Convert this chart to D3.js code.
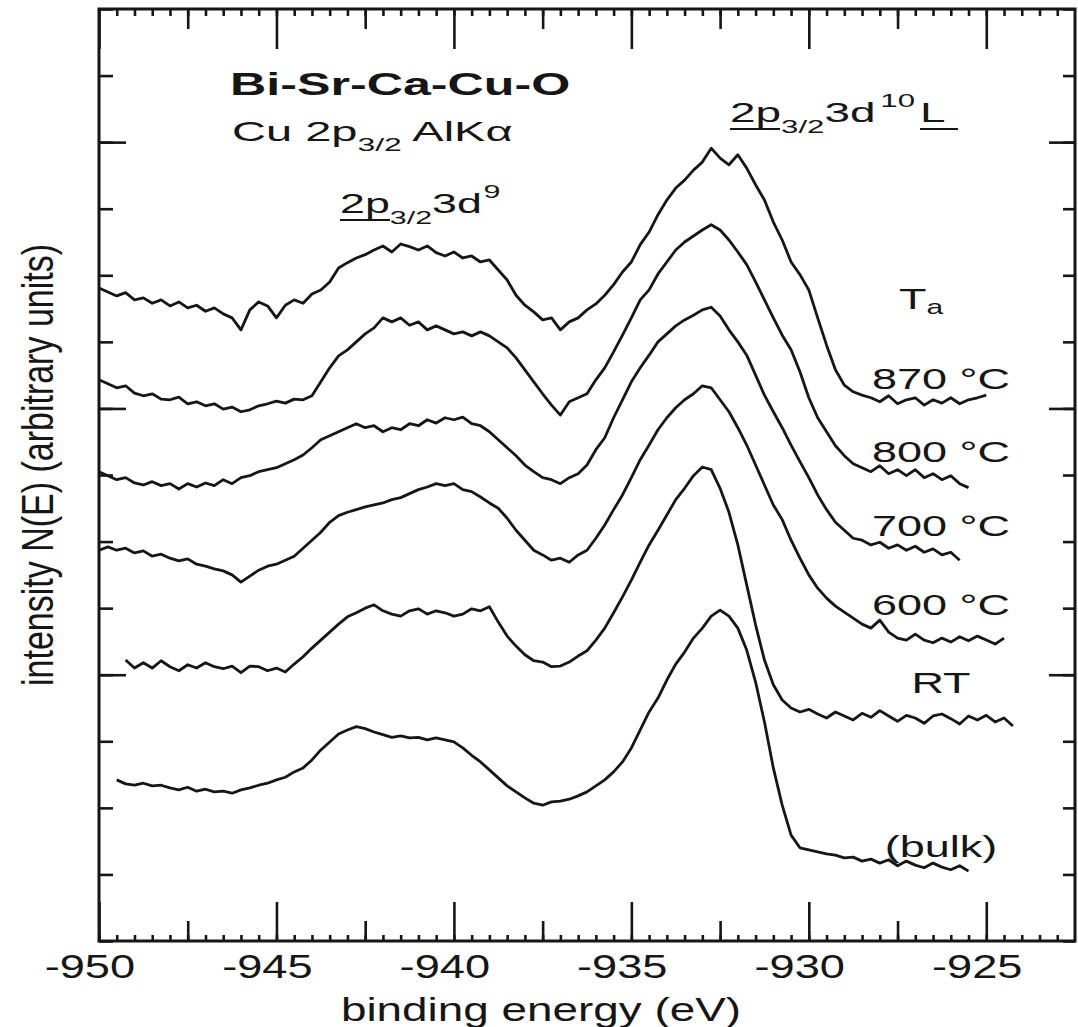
<!DOCTYPE html>
<html>
<head>
<meta charset="utf-8">
<script src="https://cdn.jsdelivr.net/npm/d3@7"></script>
<style>
body { margin: 0; background: #fff; }
text { font-family: "Liberation Sans", Arial, Helvetica, sans-serif; fill: #161616; }
</style>
</head>
<body>
<script>
// Cu 2p3/2 XPS spectra, Bi-Sr-Ca-Cu-O
// energies in eV, intensity in arbitrary units (0..140, one minor tick = 10)
var step = 0.25;

var i870 = [98.1,97.5,96.9,97.4,96.3,96.6,95.8,96.3,95.4,96.0,
	95.1,95.5,94.6,95.1,94.2,93.6,91.8,94.8,96.0,95.4,
	93.6,95.5,96.3,95.8,97.2,97.8,99.0,101.1,101.9,102.6,
	103.1,103.8,104.4,103.5,104.7,104.3,103.8,104.4,103.4,102.9,
	103.5,102.6,102.9,102.0,102.3,100.8,99.3,97.0,95.5,94.5,
	93.3,93.6,91.8,93.0,93.6,94.8,95.7,97.0,98.6,100.5,
	102.0,104.6,106.5,109.1,111.3,113.1,114.3,115.8,117.0,119.1,
	117.6,116.6,118.1,116.1,113.6,111.3,108.0,105.3,102.0,100.1,
	97.8,93.6,89.5,85.8,83.5,82.5,82.0,81.6,81.0,81.9,
	80.7,81.3,81.6,80.5,81.3,80.8,81.6,80.7,81.3,81.6,
	82.0];

var i800 = [84.3,83.7,83.1,83.4,82.3,81.9,82.2,81.4,81.3,81.7,
	80.7,81.0,80.4,80.7,79.9,80.2,79.5,79.8,80.4,80.7,
	81.1,80.8,81.4,81.3,81.9,84.0,86.1,87.9,88.8,90.0,
	91.2,92.1,93.6,93.0,93.6,92.5,93.0,91.8,92.4,91.8,
	91.2,91.5,90.9,91.5,90.9,90.0,89.1,87.6,85.8,84.0,
	82.2,80.5,79.0,81.0,81.6,82.2,84.3,86.1,88.5,91.0,
	93.6,96.3,97.8,100.2,102.0,103.8,105.0,105.9,106.8,107.6,
	106.8,105.3,103.5,101.6,99.0,96.3,93.6,91.0,88.8,85.5,
	81.6,78.6,76.5,74.4,72.9,71.7,71.1,70.5,71.4,70.2,
	70.8,69.9,70.8,69.6,70.2,69.3,69.9,68.7,68.1];

var i700 = [70.5,69.9,69.3,69.6,68.8,68.5,69.0,68.4,68.7,67.9,
	68.7,68.2,68.8,68.4,69.3,68.7,69.6,69.9,70.5,70.8,
	71.1,71.7,72.3,73.0,74.1,75.3,75.9,76.5,77.1,77.7,
	77.1,77.4,76.5,77.1,76.8,77.7,77.4,78.3,77.8,78.6,
	78.3,78.7,77.7,77.4,76.5,75.3,74.1,72.9,71.5,70.5,
	69.6,69.3,68.7,69.6,70.2,71.5,73.8,75.6,78.6,81.3,
	84.0,86.1,88.0,90.0,91.2,92.4,93.3,94.0,94.8,95.2,
	93.9,91.8,90.0,88.0,85.0,82.0,79.5,77.1,74.5,72.0,
	69.6,67.0,64.8,62.9,61.7,60.5,60.2,59.5,59.9,59.0,
	59.5,58.7,59.3,58.4,58.9,58.0,58.4,57.2];

var i600 = [58.7,59.2,58.7,59.0,58.3,58.6,57.8,58.1,57.5,57.1,
	57.4,56.6,56.3,55.9,55.6,55.0,53.9,54.8,55.7,56.3,
	56.6,57.2,57.8,59.0,60.2,61.4,62.9,63.9,64.4,64.8,
	65.2,65.5,65.8,66.3,66.6,67.2,67.8,68.2,68.7,68.4,
	68.7,67.8,67.5,66.7,65.8,65.0,63.5,61.7,60.2,58.7,
	58.0,57.2,57.5,56.9,58.0,58.7,60.5,62.5,64.8,67.0,
	69.6,72.3,74.5,76.8,78.6,80.1,81.3,82.2,83.4,83.1,
	81.3,79.5,77.1,74.5,71.5,68.5,65.5,63.3,60.2,57.5,
	55.0,53.0,51.5,50.3,49.4,48.5,47.6,47.0,48.2,46.4,
	45.5,45.2,46.1,45.2,44.8,45.5,44.9,45.7,45.1,45.8,
	45.2,44.6,45.5];

var iRT = [42.2,41.0,41.8,41.0,42.1,41.2,40.6,41.5,41.0,41.8,
	41.2,40.9,41.3,40.3,41.3,41.2,40.6,41.0,40.4,41.6,
	42.7,44.0,45.2,46.4,47.6,48.7,49.3,50.0,50.5,49.6,
	49.1,48.8,49.6,49.9,49.1,49.6,49.3,48.8,49.1,49.9,
	49.6,50.2,47.9,45.8,44.3,43.0,42.1,41.9,41.2,41.3,
	41.9,42.8,43.6,45.2,47.0,49.3,51.7,54.2,56.9,59.5,
	61.7,64.0,66.3,68.0,69.9,71.2,70.8,68.0,64.4,59.5,
	53.5,47.5,42.2,38.5,36.2,35.0,34.4,34.8,34.1,33.5,
	34.4,33.8,33.2,34.2,33.6,34.6,33.8,33.0,33.9,33.5,
	32.7,33.8,34.1,33.4,32.6,33.8,33.2,33.9,32.9,33.5,
	32.3];

var iBulk = [24.2,23.6,23.4,23.7,23.3,23.4,23.0,22.7,23.1,22.5,
	22.8,22.4,22.5,22.2,22.7,23.0,23.4,23.7,24.2,24.6,
	25.4,26.0,27.2,28.7,29.9,31.1,31.7,32.2,31.9,31.4,
	31.0,30.6,30.8,30.5,30.6,30.2,30.5,30.2,29.9,29.0,
	27.9,26.9,25.7,24.5,23.3,22.4,21.5,20.7,20.4,20.9,
	21.0,21.3,21.8,22.4,23.3,24.2,25.4,26.9,29.0,31.7,
	34.4,36.5,39.2,41.6,43.4,45.5,47.0,48.8,49.7,48.8,
	47.0,43.7,38.9,32.9,26.0,20.4,15.9,14.0,13.7,13.4,
	13.1,12.9,12.5,12.6,12.0,12.3,11.7,12.2,11.3,12.0,
	11.4,11.0,11.7,11.1,10.7,11.3,10.5];

var seriesValues = [i870, i800, i700, i600, iRT, iBulk];
var seriesStart = [-950, -950, -950, -950, -949.25, -949.5];
var seriesNames = ["870 °C", "800 °C", "700 °C", "600 °C", "RT", "(bulk)"];

var xMajor = [-950, -945, -940, -935, -930, -925];
var xMid = [-947.5, -942.5, -937.5, -932.5, -927.5];
var xMinor = d3.range(-950, -922.6, 0.5);
var yMinor = d3.range(0, 141, 10);
var yMajor = [40, 80, 120];

var w = 1078;
var h = 1027;
// plot frame (note: "top" is reserved on window, so prefixed names)
var pLeft = 99, pRight = 1075, pTop = 9, pBottom = 941;
var ink = "#161616";

var svg = d3.select("body")
	.append("svg")
	.attr("width", w)
	.attr("height", h);

var x_scale = d3.scaleLinear()
	.domain([-950, -922.5])
	.range([pLeft, pRight]);

var y_scale = d3.scaleLinear()
	.domain([0, 140])
	.range([pBottom, pTop]);

// tick marks, all pointing into the frame
function ticks(axis, transform, size)
{
	var g = svg.append("g")
		.attr("transform", transform)
		.call(axis.tickSize(size).tickFormat(""));
	g.select(".domain").remove();
	g.selectAll("line").attr("stroke", ink).attr("stroke-width", 2.6);
	return g;
}

ticks(d3.axisBottom(x_scale).tickValues(xMinor), "translate(0," + pBottom + ")", -6);
ticks(d3.axisBottom(x_scale).tickValues(xMid), "translate(0," + pBottom + ")", -20);
var xg = svg.append("g")
	.attr("transform", "translate(0," + pBottom + ")")
	.call(d3.axisBottom(x_scale).tickValues(xMajor).tickSize(-39).tickFormat(function(d){ return String(d); }));
xg.select(".domain").remove();
xg.selectAll("line").attr("stroke", ink).attr("stroke-width", 2.6);
xg.selectAll("text")
	.attr("y", 37)
	.attr("dy", 0)
	.attr("x", -7)
	.attr("transform", "scale(1.37,1)")
	.style("font-size", "33px");

ticks(d3.axisTop(x_scale).tickValues(xMinor), "translate(0," + pTop + ")", -7);
ticks(d3.axisTop(x_scale).tickValues(xMid), "translate(0," + pTop + ")", -20);
ticks(d3.axisTop(x_scale).tickValues(xMajor), "translate(0," + pTop + ")", -40);

ticks(d3.axisLeft(y_scale).tickValues(yMinor), "translate(" + pLeft + ",0)", -14);
ticks(d3.axisLeft(y_scale).tickValues(yMajor), "translate(" + pLeft + ",0)", -27);
ticks(d3.axisRight(y_scale).tickValues(yMinor), "translate(" + pRight + ",0)", -12);
ticks(d3.axisRight(y_scale).tickValues(yMajor), "translate(" + pRight + ",0)", -26);

// frame
svg.append("rect")
	.attr("x", pLeft)
	.attr("y", pTop)
	.attr("width", pRight - pLeft)
	.attr("height", pBottom - pTop)
	.attr("fill", "none")
	.attr("stroke", ink)
	.attr("stroke-width", 3);

// spectra
var line = d3.line()
	.x(function(d){ return x_scale(d[0]); })
	.y(function(d){ return y_scale(d[1]); });

svg.selectAll(".spectrum")
	.data(seriesValues)
	.enter()
	.append("path")
	.attr("class", "spectrum")
	.attr("d", function(vals, s){
		return line(vals.map(function(v, i){ return [seriesStart[s] + i * step, v]; }));
	})
	.attr("fill", "none")
	.attr("stroke", ink)
	.attr("stroke-width", 2.8)
	.attr("stroke-linejoin", "round");

// text helper: the scan is stretched sideways, so glyphs get a horizontal scale
function label(x, y, sx, size, anchor)
{
	return svg.append("text")
		.attr("transform", "translate(" + x + "," + y + ") scale(" + sx + ",1)")
		.attr("text-anchor", anchor || "start")
		.style("font-size", size + "px");
}

var t = label(230, 95, 1.62, 31).style("font-weight", "bold").text("Bi-Sr-Ca-Cu-O");

t = label(232, 141, 1.68, 28);
t.append("tspan").text("Cu 2p");
t.append("tspan").attr("dy", 10).style("font-size", "19px").text("3/2");
t.append("tspan").attr("dy", -10).text(" AlK\u03b1");

// 2p3/2 3d10 L  (final-state label over the main line)
t = label(730, 122, 1.64, 28);
t.append("tspan").text("2p");
t.append("tspan").attr("dy", 11).style("font-size", "19px").text("3/2");
t.append("tspan").attr("dy", -11).text("3d");
t.append("tspan").attr("dy", -15).attr("dx", 3).style("font-size", "19px").text("10");
t.append("tspan").attr("dy", 15).attr("dx", 3).text("L");
svg.append("line").attr("x1", 730).attr("x2", 780).attr("y1", 129).attr("y2", 129)
	.attr("stroke", ink).attr("stroke-width", 2);
svg.append("line").attr("x1", 920).attr("x2", 958).attr("y1", 129).attr("y2", 129)
	.attr("stroke", ink).attr("stroke-width", 2);

// 2p3/2 3d9  (satellite label)
t = label(340, 213, 1.6, 28);
t.append("tspan").text("2p");
t.append("tspan").attr("dy", 11).style("font-size", "19px").text("3/2");
t.append("tspan").attr("dy", -11).text("3d");
t.append("tspan").attr("dy", -15).attr("dx", 1).style("font-size", "19px").text("9");
svg.append("line").attr("x1", 340).attr("x2", 390).attr("y1", 220).attr("y2", 220)
	.attr("stroke", ink).attr("stroke-width", 2);

// annealing temperatures
t = label(921, 309, 1.5, 30, "middle");
t.append("tspan").text("T");
t.append("tspan").attr("dy", 5).style("font-size", "20px").text("a");

var nameY = [389, 462, 536, 615, 693, 857];
seriesNames.forEach(function(n, i){
	label(941, nameY[i], 1.5, 30, "middle").text(n);
});

// axis titles
label(541, 1021, 1.39, 33, "middle").text("binding energy (eV)");

svg.append("text")
	.attr("transform", "translate(53,465) rotate(-90) scale(1,1.3)")
	.attr("text-anchor", "middle")
	.style("font-size", "34px")
	.text("intensity N(E) (arbitrary units)");
</script>
</body>
</html>
